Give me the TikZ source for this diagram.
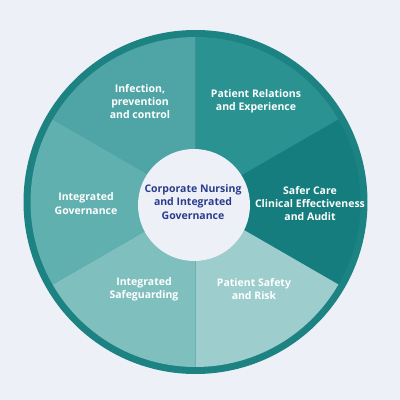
\documentclass[tikz,border=0pt]{standalone}
\usepackage{fontspec}
\setsansfont{Open Sans}
\usepackage{tikz}

\definecolor{bgc}{HTML}{EEF0F7}
\definecolor{ringc}{HTML}{1C8282}
\definecolor{infc}{HTML}{4FA5A6}
\definecolor{relc}{HTML}{2A9291}
\definecolor{safc}{HTML}{157D7E}
\definecolor{riskc}{HTML}{9DCDCC}
\definecolor{guardc}{HTML}{7FBFBE}
\definecolor{govc}{HTML}{61B0B0}
\definecolor{corec}{HTML}{2B3C8C}

\begin{document}
\begin{tikzpicture}[x=1pt,y=1pt,
        lbl/.style={align=center,text=white,
                    font=\sffamily\bfseries\fontsize{10.5}{13.4}\selectfont},
        hub/.style={circle,fill=bgc,minimum size=112pt,inner sep=0pt}]
        \fill[bgc] (0,0) rectangle (400,400);
        \useasboundingbox (0,0) rectangle (400,400);
        % outer ring and the six sectors
        \fill[ringc] (195.5,198) circle (172);
        \foreach \a/\c in {90/infc,30/relc,-30/safc,-90/riskc,210/guardc,150/govc}{
          \fill[\c] (195.5,198) -- ++(\a:165)
            arc[start angle=\a,delta angle=60,radius=165] -- cycle;
        }
        \node[hub] (core) at (194,195) {};
        \node[lbl,text=corec] (coretxt) at (193,198)
          {Corporate Nursing\\and Integrated\\Governance};
        % sector labels
        \node[lbl] (inf) at (140,298.5) {Infection,\\prevention\\and control};
        \node[lbl] (rel) at (256,298.5) {Patient Relations\\and Experience};
        \node[lbl] (saf) at (310,196.5)
          {Safer Care\\Clinical Effectiveness\\and Audit};
        \node[lbl] (risk) at (254,111) {Patient Safety\\and Risk};
        \node[lbl] (guard) at (144,111) {Integrated\\Safeguarding};
        \node[lbl] (gov) at (86,196.5) {Integrated\\Governance};
\end{tikzpicture}
\end{document}
